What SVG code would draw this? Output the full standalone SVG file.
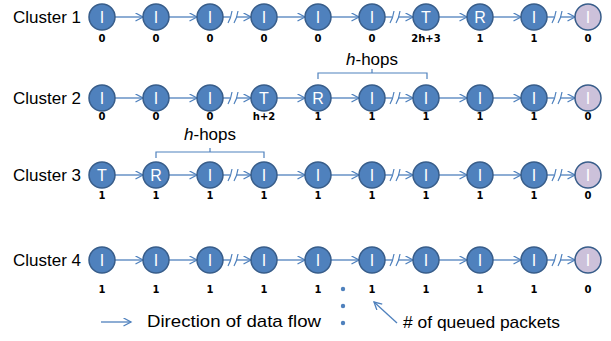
<svg xmlns="http://www.w3.org/2000/svg" width="611" height="341" viewBox="0 0 611 341">
<defs>
<style>
.n{fill:#4F81BD;stroke:#385D8A;stroke-width:1.5}
.p{fill:#CCC1DA;stroke:#385D8A;stroke-width:1.5}
.t{fill:#fff;font-family:"Liberation Sans",Arial,sans-serif;font-size:16px;text-anchor:middle}
.l{fill:#000;font-family:"DejaVu Sans",Verdana,sans-serif;font-weight:bold;font-size:10px;text-anchor:middle}
.c{fill:#000;font-family:"Liberation Sans",Arial,sans-serif;font-size:17px}
.a{stroke:#4F81BD;stroke-width:1.3;fill:none}
.b{stroke:#4F81BD;stroke-width:1.2;fill:none}
</style>
<marker id="ah" markerUnits="userSpaceOnUse" markerWidth="10" markerHeight="10" refX="8" refY="4.5" orient="auto">
<path d="M0.5,0.5 L8,4.5 L0.5,8.5" fill="none" stroke="#4F81BD" stroke-width="1.3"/>
</marker>
</defs>
<rect width="611" height="341" fill="#fff"/>

<g id="labels">
<text class="c" x="13" y="23">Cluster 1</text>
<text class="c" x="13" y="104">Cluster 2</text>
<text class="c" x="13" y="181">Cluster 3</text>
<text class="c" x="13" y="266">Cluster 4</text>
</g>

<g id="connectors">
<!-- row 1 y=17 -->
<path class="a" marker-end="url(#ah)" d="M115,17H143"/>
<path class="a" marker-end="url(#ah)" d="M169,17H197"/>
<path class="a" d="M223,17H230"/><path class="a" marker-end="url(#ah)" d="M236,17H251"/>
<path class="a" marker-end="url(#ah)" d="M277,17H305"/>
<path class="a" marker-end="url(#ah)" d="M331,17H359"/>
<path class="a" d="M385,17H392"/><path class="a" marker-end="url(#ah)" d="M398,17H413"/>
<path class="a" marker-end="url(#ah)" d="M439,17H467"/>
<path class="a" marker-end="url(#ah)" d="M493,17H521"/>
<path class="a" d="M547,17H554"/><path class="a" marker-end="url(#ah)" d="M560,17H575"/>
<path class="b" d="M228,23Q231,18 232,11M234,23Q237,18 238,11"/>
<path class="b" d="M390,23Q393,18 394,11M396,23Q399,18 400,11"/>
<path class="b" d="M552,23Q555,18 556,11M558,23Q561,18 562,11"/>
<!-- row 2 y=98 -->
<path class="a" marker-end="url(#ah)" d="M115,98H143"/>
<path class="a" marker-end="url(#ah)" d="M169,98H197"/>
<path class="a" d="M223,98H230"/><path class="a" marker-end="url(#ah)" d="M236,98H251"/>
<path class="a" marker-end="url(#ah)" d="M277,98H305"/>
<path class="a" marker-end="url(#ah)" d="M331,98H359"/>
<path class="a" d="M385,98H392"/><path class="a" marker-end="url(#ah)" d="M398,98H413"/>
<path class="a" marker-end="url(#ah)" d="M439,98H467"/>
<path class="a" marker-end="url(#ah)" d="M493,98H521"/>
<path class="a" d="M547,98H554"/><path class="a" marker-end="url(#ah)" d="M560,98H575"/>
<path class="b" d="M228,104Q231,99 232,92M234,104Q237,99 238,92"/>
<path class="b" d="M390,104Q393,99 394,92M396,104Q399,99 400,92"/>
<path class="b" d="M552,104Q555,99 556,92M558,104Q561,99 562,92"/>
<!-- row 3 y=175 -->
<path class="a" marker-end="url(#ah)" d="M115,175H143"/>
<path class="a" marker-end="url(#ah)" d="M169,175H197"/>
<path class="a" d="M223,175H230"/><path class="a" marker-end="url(#ah)" d="M236,175H251"/>
<path class="a" marker-end="url(#ah)" d="M277,175H305"/>
<path class="a" marker-end="url(#ah)" d="M331,175H359"/>
<path class="a" d="M385,175H392"/><path class="a" marker-end="url(#ah)" d="M398,175H413"/>
<path class="a" marker-end="url(#ah)" d="M439,175H467"/>
<path class="a" marker-end="url(#ah)" d="M493,175H521"/>
<path class="a" d="M547,175H554"/><path class="a" marker-end="url(#ah)" d="M560,175H575"/>
<path class="b" d="M228,181Q231,176 232,169M234,181Q237,176 238,169"/>
<path class="b" d="M390,181Q393,176 394,169M396,181Q399,176 400,169"/>
<path class="b" d="M552,181Q555,176 556,169M558,181Q561,176 562,169"/>
<!-- row 4 y=260 -->
<path class="a" marker-end="url(#ah)" d="M115,260H143"/>
<path class="a" marker-end="url(#ah)" d="M169,260H197"/>
<path class="a" d="M223,260H230"/><path class="a" marker-end="url(#ah)" d="M236,260H251"/>
<path class="a" marker-end="url(#ah)" d="M277,260H305"/>
<path class="a" marker-end="url(#ah)" d="M331,260H359"/>
<path class="a" d="M385,260H392"/><path class="a" marker-end="url(#ah)" d="M398,260H413"/>
<path class="a" marker-end="url(#ah)" d="M439,260H467"/>
<path class="a" marker-end="url(#ah)" d="M493,260H521"/>
<path class="a" d="M547,260H554"/><path class="a" marker-end="url(#ah)" d="M560,260H575"/>
<path class="b" d="M228,266Q231,261 232,254M234,266Q237,261 238,254"/>
<path class="b" d="M390,266Q393,261 394,254M396,266Q399,261 400,254"/>
<path class="b" d="M552,266Q555,261 556,254M558,266Q561,261 562,254"/>
</g>

<g id="hhops">
<text class="c" x="372" y="65" text-anchor="middle"><tspan font-style="italic">h</tspan>-hops</text>
<path class="b" d="M318,79V73H427V79M372,73V69"/>
<text class="c" x="210" y="140" text-anchor="middle"><tspan font-style="italic">h</tspan>-hops</text>
<path class="b" d="M156,158V152H264V158M210,152V148"/>
</g>

<!-- row 1 -->
<g id="c1-1"><circle class="n" cx="102" cy="17" r="13"/><text class="t" x="102" y="23">I</text><text class="l" x="102" y="42">0</text></g>
<g id="c1-2"><circle class="n" cx="156" cy="17" r="13"/><text class="t" x="156" y="23">I</text><text class="l" x="156" y="42">0</text></g>
<g id="c1-3"><circle class="n" cx="210" cy="17" r="13"/><text class="t" x="210" y="23">I</text><text class="l" x="210" y="42">0</text></g>
<g id="c1-4"><circle class="n" cx="264" cy="17" r="13"/><text class="t" x="264" y="23">I</text><text class="l" x="264" y="42">0</text></g>
<g id="c1-5"><circle class="n" cx="318" cy="17" r="13"/><text class="t" x="318" y="23">I</text><text class="l" x="318" y="42">0</text></g>
<g id="c1-6"><circle class="n" cx="372" cy="17" r="13"/><text class="t" x="372" y="23">I</text><text class="l" x="372" y="42">0</text></g>
<g id="c1-7"><circle class="n" cx="426" cy="17" r="13"/><text class="t" x="426" y="23">T</text><text class="l" x="426" y="42">2h+3</text></g>
<g id="c1-8"><circle class="n" cx="480" cy="17" r="13"/><text class="t" x="480" y="23">R</text><text class="l" x="480" y="42">1</text></g>
<g id="c1-9"><circle class="n" cx="534" cy="17" r="13"/><text class="t" x="534" y="23">I</text><text class="l" x="534" y="42">1</text></g>
<g id="c1-10"><circle class="p" cx="588" cy="17" r="13"/><text class="t" x="588" y="23">I</text><text class="l" x="588" y="42">0</text></g>
<!-- row 2 -->
<g id="c2-1"><circle class="n" cx="102" cy="98" r="13"/><text class="t" x="102" y="104">I</text><text class="l" x="102" y="120">0</text></g>
<g id="c2-2"><circle class="n" cx="156" cy="98" r="13"/><text class="t" x="156" y="104">I</text><text class="l" x="156" y="120">0</text></g>
<g id="c2-3"><circle class="n" cx="210" cy="98" r="13"/><text class="t" x="210" y="104">I</text><text class="l" x="210" y="120">0</text></g>
<g id="c2-4"><circle class="n" cx="264" cy="98" r="13"/><text class="t" x="264" y="104">T</text><text class="l" x="264" y="120">h+2</text></g>
<g id="c2-5"><circle class="n" cx="318" cy="98" r="13"/><text class="t" x="318" y="104">R</text><text class="l" x="318" y="120">1</text></g>
<g id="c2-6"><circle class="n" cx="372" cy="98" r="13"/><text class="t" x="372" y="104">I</text><text class="l" x="372" y="120">1</text></g>
<g id="c2-7"><circle class="n" cx="426" cy="98" r="13"/><text class="t" x="426" y="104">I</text><text class="l" x="426" y="120">1</text></g>
<g id="c2-8"><circle class="n" cx="480" cy="98" r="13"/><text class="t" x="480" y="104">I</text><text class="l" x="480" y="120">1</text></g>
<g id="c2-9"><circle class="n" cx="534" cy="98" r="13"/><text class="t" x="534" y="104">I</text><text class="l" x="534" y="120">1</text></g>
<g id="c2-10"><circle class="p" cx="588" cy="98" r="13"/><text class="t" x="588" y="104">I</text><text class="l" x="588" y="120">0</text></g>
<!-- row 3 -->
<g id="c3-1"><circle class="n" cx="102" cy="175" r="13"/><text class="t" x="102" y="181">T</text><text class="l" x="102" y="199">1</text></g>
<g id="c3-2"><circle class="n" cx="156" cy="175" r="13"/><text class="t" x="156" y="181">R</text><text class="l" x="156" y="199">1</text></g>
<g id="c3-3"><circle class="n" cx="210" cy="175" r="13"/><text class="t" x="210" y="181">I</text><text class="l" x="210" y="199">1</text></g>
<g id="c3-4"><circle class="n" cx="264" cy="175" r="13"/><text class="t" x="264" y="181">I</text><text class="l" x="264" y="199">1</text></g>
<g id="c3-5"><circle class="n" cx="318" cy="175" r="13"/><text class="t" x="318" y="181">I</text><text class="l" x="318" y="199">1</text></g>
<g id="c3-6"><circle class="n" cx="372" cy="175" r="13"/><text class="t" x="372" y="181">I</text><text class="l" x="372" y="199">1</text></g>
<g id="c3-7"><circle class="n" cx="426" cy="175" r="13"/><text class="t" x="426" y="181">I</text><text class="l" x="426" y="199">1</text></g>
<g id="c3-8"><circle class="n" cx="480" cy="175" r="13"/><text class="t" x="480" y="181">I</text><text class="l" x="480" y="199">1</text></g>
<g id="c3-9"><circle class="n" cx="534" cy="175" r="13"/><text class="t" x="534" y="181">I</text><text class="l" x="534" y="199">1</text></g>
<g id="c3-10"><circle class="p" cx="588" cy="175" r="13"/><text class="t" x="588" y="181">I</text><text class="l" x="588" y="199">0</text></g>
<!-- row 4 -->
<g id="c4-1"><circle class="n" cx="102" cy="260" r="13"/><text class="t" x="102" y="266">I</text><text class="l" x="102" y="293">1</text></g>
<g id="c4-2"><circle class="n" cx="156" cy="260" r="13"/><text class="t" x="156" y="266">I</text><text class="l" x="156" y="293">1</text></g>
<g id="c4-3"><circle class="n" cx="210" cy="260" r="13"/><text class="t" x="210" y="266">I</text><text class="l" x="210" y="293">1</text></g>
<g id="c4-4"><circle class="n" cx="264" cy="260" r="13"/><text class="t" x="264" y="266">I</text><text class="l" x="264" y="293">1</text></g>
<g id="c4-5"><circle class="n" cx="318" cy="260" r="13"/><text class="t" x="318" y="266">I</text><text class="l" x="318" y="293">1</text></g>
<g id="c4-6"><circle class="n" cx="372" cy="260" r="13"/><text class="t" x="372" y="266">I</text><text class="l" x="372" y="293">1</text></g>
<g id="c4-7"><circle class="n" cx="426" cy="260" r="13"/><text class="t" x="426" y="266">I</text><text class="l" x="426" y="293">1</text></g>
<g id="c4-8"><circle class="n" cx="480" cy="260" r="13"/><text class="t" x="480" y="266">I</text><text class="l" x="480" y="293">1</text></g>
<g id="c4-9"><circle class="n" cx="534" cy="260" r="13"/><text class="t" x="534" y="266">I</text><text class="l" x="534" y="293">1</text></g>
<g id="c4-10"><circle class="p" cx="588" cy="260" r="13"/><text class="t" x="588" y="266">I</text><text class="l" x="588" y="293">0</text></g>

<g id="legend">
<circle cx="343" cy="289" r="2.2" fill="#4F81BD"/>
<circle cx="343" cy="306" r="2.2" fill="#4F81BD"/>
<circle cx="343" cy="323" r="2.2" fill="#4F81BD"/>
<path class="a" marker-end="url(#ah)" d="M101,322H131"/>
<text class="c" x="147" y="327" textLength="174" lengthAdjust="spacingAndGlyphs">Direction of data flow</text>
<path class="a" marker-end="url(#ah)" d="M397,323L374,302"/>
<text class="c" x="403" y="328" textLength="157" lengthAdjust="spacingAndGlyphs"># of queued packets</text>
</g>
</svg>
